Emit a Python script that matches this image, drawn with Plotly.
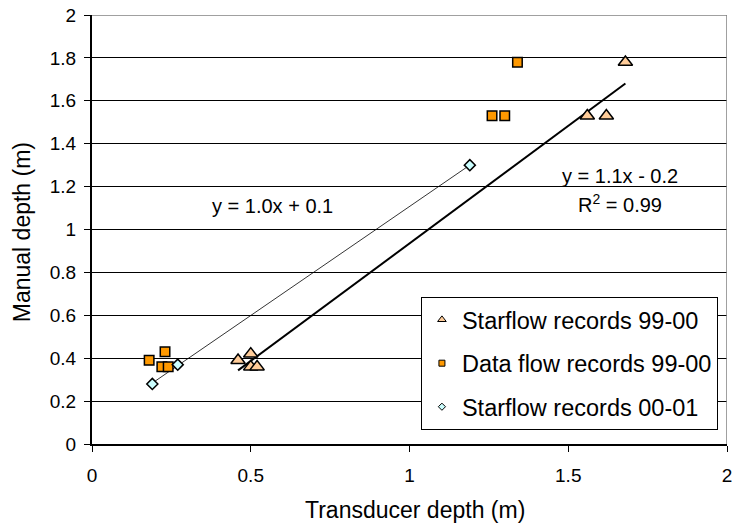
import numpy as np
import plotly.graph_objects as go

# Starflow records 99-00
sf99_x = [0.46, 0.50, 0.50, 0.52, 1.56, 1.62, 1.68]
sf99_y = [0.39, 0.42, 0.36, 0.36, 1.53, 1.53, 1.78]
# Data flow records 99-00
df99_x = [0.18, 0.23, 0.22, 0.24, 1.26, 1.30, 1.34]
df99_y = [0.39, 0.43, 0.36, 0.36, 1.53, 1.53, 1.78]
# Starflow records 00-01
sf00_x = [0.19, 0.27, 1.19]
sf00_y = [0.28, 0.37, 1.30]

x_ticks = [0, 0.5, 1, 1.5, 2]
y_ticks = [0, 0.2, 0.4, 0.6, 0.8, 1, 1.2, 1.4, 1.6, 1.8, 2]

font_family = "Arial, Liberation Sans, sans-serif"

fig = go.Figure()

# trend lines (least squares fits of the data)
m1, b1 = np.polyfit(sf99_x, sf99_y, 1)
tx1 = [min(sf99_x), max(sf99_x)]
fig.add_trace(go.Scatter(x=tx1, y=[m1 * v + b1 for v in tx1], mode="lines",
                         line=dict(color="black", width=2), showlegend=False, hoverinfo="skip"))
m2, b2 = np.polyfit(sf00_x, sf00_y, 1)
tx2 = [min(sf00_x), max(sf00_x)]
fig.add_trace(go.Scatter(x=tx2, y=[m2 * v + b2 for v in tx2], mode="lines",
                         line=dict(color="black", width=0.8), showlegend=False, hoverinfo="skip"))

mk_line = dict(color="black", width=1.5)
fig.add_trace(go.Scatter(x=sf99_x, y=sf99_y, mode="markers", showlegend=False,
                         marker=dict(symbol="triangle-up", size=12.5, color="#FFCC99", line=mk_line)))
fig.add_trace(go.Scatter(x=df99_x, y=df99_y, mode="markers", showlegend=False,
                         marker=dict(symbol="square", size=9.5, color="#FF9900", line=mk_line)))
fig.add_trace(go.Scatter(x=sf00_x, y=sf00_y, mode="markers", showlegend=False,
                         marker=dict(symbol="diamond", size=8.5, color="#CCFFFF", line=mk_line)))

# legend entries with small markers
fig.add_trace(go.Scatter(x=[None], y=[None], mode="markers", name="Starflow records 99-00",
                         legendgroup="a",
                         marker=dict(symbol="triangle-up", size=7.5, color="#FFCC99", line=dict(color="black", width=1))))
fig.add_trace(go.Scatter(x=[None], y=[None], mode="markers", name="Data flow records 99-00",
                         legendgroup="b",
                         marker=dict(symbol="square", size=6, color="#FF9900", line=dict(color="black", width=1))))
fig.add_trace(go.Scatter(x=[None], y=[None], mode="markers", name="Starflow records 00-01",
                         legendgroup="c",
                         marker=dict(symbol="diamond", size=5.5, color="#CCFFFF", line=dict(color="black", width=1))))

ann_font = dict(size=20, color="black", family=font_family)
fig.add_annotation(x=0.569, y=1.11, text="y = 1.0x + 0.1", showarrow=False, font=ann_font)
fig.add_annotation(x=1.664, y=1.25, text="y = 1.1x - 0.2", showarrow=False, font=ann_font)
fig.add_annotation(x=1.664, y=1.12, text="R<sup>2</sup> = 0.99", showarrow=False, font=ann_font)

# axis titles
fig.add_annotation(xref="paper", yref="paper", x=0.508, y=-0.155, text="Transducer depth (m)",
                   showarrow=False, xanchor="center", yanchor="middle",
                   font=dict(size=23, color="black", family=font_family))
fig.add_annotation(xref="paper", yref="paper", x=-0.11, y=0.494, text="Manual depth (m)",
                   showarrow=False, xanchor="center", yanchor="middle", textangle=-90,
                   font=dict(size=23, color="black", family=font_family))

# plot area border (top and right)
fig.add_shape(type="line", xref="x", yref="y", x0=0, x1=2, y0=2, y1=2,
              line=dict(color="#808080", width=1.5), layer="above")
fig.add_shape(type="line", xref="x", yref="y", x0=2, x1=2, y0=0, y1=2,
              line=dict(color="#808080", width=1.5), layer="above")

fig.update_layout(
    width=736, height=525,
    margin=dict(l=92, r=9, t=15, b=81),
    paper_bgcolor="white", plot_bgcolor="white",
    font=dict(family=font_family, color="black", size=19),
    xaxis=dict(range=[0, 2], tickvals=x_ticks, ticktext=[("%g" % v) for v in x_ticks],
               showgrid=False, zeroline=False, showline=True, linecolor="black", linewidth=2,
               ticks="outside", ticklen=6, tickcolor="black", automargin=False,
               tickfont=dict(size=19), ticklabelstandoff=7, ticklabeloverflow="allow"),
    yaxis=dict(range=[0, 2], tickvals=y_ticks, ticktext=[("%g" % v) for v in y_ticks],
               showgrid=True, gridcolor="black", gridwidth=1, zeroline=False,
               showline=True, linecolor="black", linewidth=2,
               ticks="outside", ticklen=6, tickcolor="black", automargin=False,
               tickfont=dict(size=19), ticklabelstandoff=4, ticklabeloverflow="allow"),
    legend=dict(x=0.518, y=0.343, xanchor="left", yanchor="top",
                bgcolor="white", bordercolor="black", borderwidth=1,
                font=dict(size=23.5), tracegroupgap=10, itemsizing="trace"),
    showlegend=True,
)

fig.write_html("out.html", config={"displayModeBar": False},
               post_script="document.body.style.margin='0';")
